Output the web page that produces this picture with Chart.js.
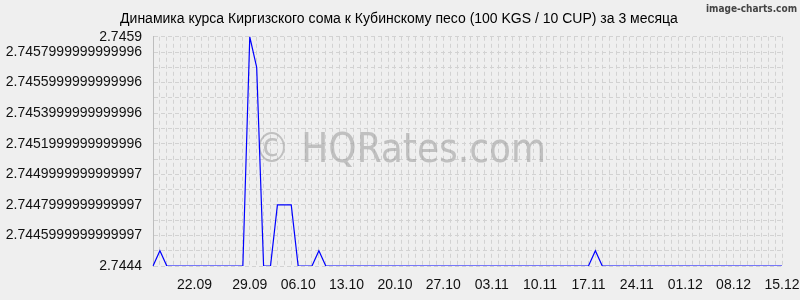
<!DOCTYPE html>
<html>
<head>
<meta charset="utf-8">
<script src="https://cdn.jsdelivr.net/npm/chart.js@4.4.1/dist/chart.umd.min.js"></script>
<style>
  html, body { margin: 0; padding: 0; background: #efefef; }
  #wrap { width: 800px; height: 300px; }
</style>
</head>
<body>
<div id="wrap"><canvas id="rateChart" width="800" height="300"></canvas></div>
<script>
// days shown on the x axis (the source repeats 27.09)
const dates = [
    '16.09', '17.09', '18.09', '19.09', '20.09', '21.09', '22.09', '23.09', '24.09', '25.09',
    '26.09', '27.09', '27.09', '28.09', '29.09', '30.09',
    '01.10', '02.10', '03.10', '04.10', '05.10', '06.10', '07.10', '08.10', '09.10', '10.10',
    '11.10', '12.10', '13.10', '14.10', '15.10', '16.10', '17.10', '18.10', '19.10', '20.10',
    '21.10', '22.10', '23.10', '24.10', '25.10', '26.10', '27.10', '28.10', '29.10', '30.10', '31.10',
    '01.11', '02.11', '03.11', '04.11', '05.11', '06.11', '07.11', '08.11', '09.11', '10.11',
    '11.11', '12.11', '13.11', '14.11', '15.11', '16.11', '17.11', '18.11', '19.11', '20.11',
    '21.11', '22.11', '23.11', '24.11', '25.11', '26.11', '27.11', '28.11', '29.11', '30.11',
    '01.12', '02.12', '03.12', '04.12', '05.12', '06.12', '07.12', '08.12', '09.12', '10.12',
    '11.12', '12.12', '13.12', '14.12', '15.12'
];

// KGS/CUP rate per day
const rates = [
    2.7444, 2.7445, 2.7444, 2.7444, 2.7444, 2.7444, 2.7444, 2.7444, 2.7444, 2.7444,
    2.7444, 2.7444, 2.7444, 2.7444, 2.7459, 2.7457, 2.7444, 2.7444, 2.7448, 2.7448,
    2.7448, 2.7444, 2.7444, 2.7444, 2.7445, 2.7444, 2.7444, 2.7444, 2.7444, 2.7444,
    2.7444, 2.7444, 2.7444, 2.7444, 2.7444, 2.7444, 2.7444, 2.7444, 2.7444, 2.7444,
    2.7444, 2.7444, 2.7444, 2.7444, 2.7444, 2.7444, 2.7444, 2.7444, 2.7444, 2.7444,
    2.7444, 2.7444, 2.7444, 2.7444, 2.7444, 2.7444, 2.7444, 2.7444, 2.7444, 2.7444,
    2.7444, 2.7444, 2.7444, 2.7444, 2.7445, 2.7444, 2.7444, 2.7444, 2.7444, 2.7444,
    2.7444, 2.7444, 2.7444, 2.7444, 2.7444, 2.7444, 2.7444, 2.7444, 2.7444, 2.7444,
    2.7444, 2.7444, 2.7444, 2.7444, 2.7444, 2.7444, 2.7444, 2.7444, 2.7444, 2.7444,
    2.7444, 2.7444
];

// labelled days on the x axis
const xTickLabels = ['22.09', '29.09', '06.10', '13.10', '20.10', '27.10', '03.11',
    '10.11', '17.11', '24.11', '01.12', '08.12', '15.12'];

// y grid positions and their labels (as printed in the original)
const yTickValues = [2.7444, 2.7445, 2.7446, 2.7447, 2.7448, 2.7449, 2.7450, 2.7451,
    2.7452, 2.7453, 2.7454, 2.7455, 2.7456, 2.7457, 2.7458, 2.7459];
const yTickLabels = ['2.7444', '', '2.7445999999999997', '', '2.7447999999999997', '',
    '2.7449999999999997', '', '2.7451999999999996', '', '2.7453999999999996', '',
    '2.7455999999999996', '', '2.7457999999999996', '2.7459'];

const titleText = 'Динамика курса Киргизского сома к Кубинскому песо (100 KGS / 10 CUP) за 3 месяца';

Chart.defaults.font.family = '"Liberation Sans", Arial, sans-serif';
Chart.defaults.color = '#111';

// background, watermark and the little credit in the corner
const decorations = {
    id: 'decorations',
    beforeDraw(chart) {
        const ctx = chart.ctx;
        ctx.save();
        ctx.fillStyle = '#efefef';
        ctx.fillRect(0, 0, chart.width, chart.height);
        ctx.restore();
    },
    beforeDatasetsDraw(chart) {
        const ctx = chart.ctx;
        ctx.save();
        ctx.font = '40px "DejaVu Sans Condensed", "DejaVu Sans", sans-serif';
        ctx.fillStyle = 'rgba(160, 160, 160, 0.6)';
        ctx.textAlign = 'center';
        ctx.textBaseline = 'alphabetic';
        ctx.fillText('© HQRates.com', 400, 162);
        ctx.restore();
    },
    afterDraw(chart) {
        const ctx = chart.ctx;
        ctx.save();
        ctx.font = 'bold 10px "DejaVu Sans Condensed", "DejaVu Sans", sans-serif';
        ctx.fillStyle = '#444';
        ctx.textAlign = 'right';
        ctx.textBaseline = 'top';
        ctx.fillText('image-charts.com', 797, 4);
        ctx.restore();
    }
};

const ctx = document.getElementById('rateChart').getContext('2d');
const rateChart = new Chart(ctx, {
    type: 'line',
    data: {
        labels: dates,
        datasets: [{
            data: rates,
            borderColor: '#0000ff',
            borderWidth: 1.2,
            pointRadius: 0,
            tension: 0,
            fill: false
        }]
    },
    options: {
        responsive: false,
        animation: false,
        layout: { padding: { left: 0, right: 2, top: 0, bottom: 0 } },
        plugins: {
            legend: { display: false },
            tooltip: { enabled: false },
            title: {
                display: true,
                text: titleText,
                color: '#000',
                font: { size: 14, weight: 'normal' },
                padding: { top: 11, bottom: 9 }
            }
        },
        scales: {
            x: {
                type: 'category',
                offset: false,
                afterFit(scale) {
                    scale.height = 34;
                    scale.paddingLeft = 0;
                    scale.paddingRight = 18;
                },
                grid: { color: '#d2d2d2', drawTicks: false, offset: false },
                border: { display: false, dash: [4, 3] },
                ticks: {
                    autoSkip: false,
                    maxRotation: 0,
                    padding: 11,
                    color: '#111',
                    font: { size: 14 },
                    callback: function (value, index) {
                        const label = dates[index];
                        return xTickLabels.includes(label) ? label : '';
                    }
                }
            },
            y: {
                min: 2.7444,
                max: 2.7459,
                afterFit(scale) { scale.width = 153; },
                afterBuildTicks(scale) {
                    scale.ticks = yTickValues.map(v => ({ value: v }));
                },
                grid: { color: '#d2d2d2', drawTicks: false },
                border: { display: true, color: '#bdbdbd', dash: [4, 3] },
                ticks: {
                    autoSkip: false,
                    padding: 11,
                    color: '#111',
                    font: { size: 14 },
                    callback: function (value, index) {
                        return yTickLabels[index];
                    }
                }
            }
        }
    },
    plugins: [decorations]
});
</script>
</body>
</html>
